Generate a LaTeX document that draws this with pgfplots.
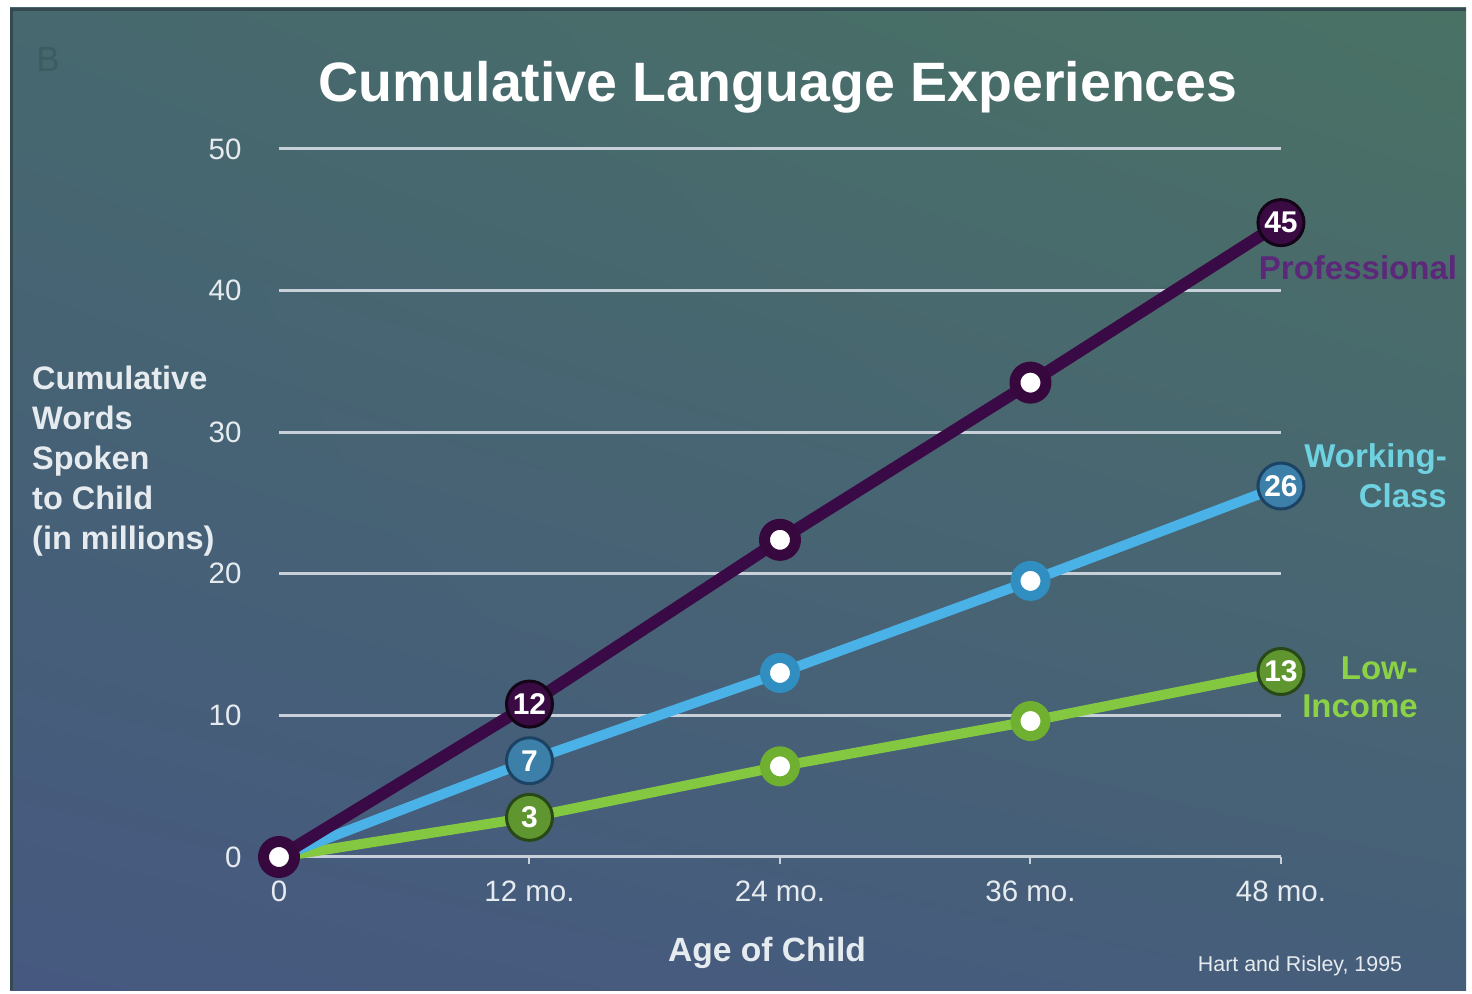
\documentclass[border=0pt]{standalone}
\usepackage{fontspec}
\setmainfont{Liberation Sans}
\usepackage{pgfplots}
\pgfplotsset{compat=1.18}
\usetikzlibrary{shadings}
\definecolor{bgUL}{RGB}{70,104,110}
\definecolor{bgUR}{RGB}{74,114,100}
\definecolor{bgLL}{RGB}{70,88,128}
\definecolor{bgLR}{RGB}{70,94,122}
\definecolor{bgedge}{RGB}{52,74,80}
\definecolor{gridc}{RGB}{200,208,218}
\definecolor{tickc}{RGB}{230,235,240}
\definecolor{profline}{RGB}{58,10,70}
\definecolor{profring}{RGB}{55,8,62}
\definecolor{proffill}{RGB}{58,10,66}
\definecolor{profborder}{RGB}{20,4,24}
\definecolor{proftext}{RGB}{92,40,122}
\definecolor{workline}{RGB}{74,178,230}
\definecolor{workring}{RGB}{48,142,192}
\definecolor{workfill}{RGB}{60,128,170}
\definecolor{workborder}{RGB}{28,66,100}
\definecolor{worktext}{RGB}{110,210,225}
\definecolor{lowline}{RGB}{132,200,66}
\definecolor{lowring}{RGB}{112,176,48}
\definecolor{lowfill}{RGB}{96,150,48}
\definecolor{lowborder}{RGB}{40,72,24}
\definecolor{lowtext}{RGB}{140,210,70}
\definecolor{bmark}{RGB}{60,92,95}
\begin{document}
\begin{tikzpicture}[x=1pt,y=1pt]
\fill[white] (0,0) rectangle (1472,993);
\shade[upper left=bgUL, upper right=bgUR, lower left=bgLL, lower right=bgLR] (10,3) rectangle (1466,985);
\draw[bgedge, line width=3pt] (11.5,3) -- (11.5,983.5) -- (1466,983.5);
\node[anchor=base, font=\fontsize{35}{35}\selectfont, text=bmark] at (48,921) {B};
\begin{axis}[
  at={(279pt,136pt)}, anchor=south west,
  scale only axis, width=1002pt, height=708pt,
  xmin=0, xmax=48, ymin=0, ymax=50,
  clip=false,
  axis line style={draw=none},
  ymajorgrids,
  grid style={gridc, line width=3pt},
  xtick={0,12,24,36,48},
  xticklabels={0,\mbox{12 mo.},\mbox{24 mo.},\mbox{36 mo.},\mbox{48 mo.}},
  ytick={0,10,20,30,40,50},
  tick pos=left,
  tick align=outside,
  major tick length=7pt,
  xtick style={draw=gridc, line width=2pt},
  ytick style={draw=none},
  /pgf/number format/assume math mode=true,
  ticklabel style={font=\fontsize{29.5}{30}\selectfont, text=tickc},
  xticklabel style={yshift=-13pt},
  yticklabel style={xshift=-27pt},
]
\addplot[lowline, line width=10pt, line join=round, mark=*, mark size=15pt,
  mark options={draw=lowring, fill=white, line width=10pt}]
  coordinates {(0,0) (12,2.8) (24,6.4) (36,9.6) (48,13.1)};
\addplot[workline, line width=10pt, line join=round, mark=*, mark size=15pt,
  mark options={draw=workring, fill=white, line width=10pt}]
  coordinates {(0,0) (12,6.8) (24,13.0) (36,19.5) (48,26.2)};
\addplot[profline, line width=12pt, line join=round, mark=*, mark size=15.5pt,
  mark options={draw=profring, fill=white, line width=11pt}]
  coordinates {(0,0) (12,10.8) (24,22.4) (36,33.5) (48,44.8)};
\addplot[draw=none, mark=none, nodes near coords, point meta=explicit symbolic,
  every node near coord/.style={anchor=center, circle, fill=lowfill, draw=lowborder, line width=3pt,
    minimum size=46pt, inner sep=0pt, text=white, font=\bfseries\fontsize{30}{30}\selectfont}]
  coordinates {(12,2.8)[3] (48,13.1)[13]};
\addplot[draw=none, mark=none, nodes near coords, point meta=explicit symbolic,
  every node near coord/.style={anchor=center, circle, fill=workfill, draw=workborder, line width=3pt,
    minimum size=46pt, inner sep=0pt, text=white, font=\bfseries\fontsize{30}{30}\selectfont}]
  coordinates {(12,6.8)[7] (48,26.2)[26]};
\addplot[draw=none, mark=none, nodes near coords, point meta=explicit symbolic,
  every node near coord/.style={anchor=center, circle, fill=proffill, draw=profborder, line width=3pt,
    minimum size=46pt, inner sep=0pt, text=white, font=\bfseries\fontsize{30}{30}\selectfont}]
  coordinates {(12,10.8)[12] (48,44.8)[45]};
\end{axis}
\node[anchor=base, font=\bfseries\fontsize{55.5}{60}\selectfont, text=white] at (778,891) {Cumulative Language Experiences};
\node[anchor=north west, align=left, inner sep=0pt, font=\bfseries\fontsize{32.5}{40}\selectfont, text=tickc] at (32,627) {Cumulative\\Words\\Spoken\\to Child\\(in millions)};
\node[anchor=base, font=\bfseries\fontsize{33.6}{36}\selectfont, text=tickc] at (767,31) {Age of Child};
\node[anchor=base, font=\fontsize{21.4}{24}\selectfont, text=tickc] at (1300,22) {Hart and Risley, 1995};
\node[anchor=base, font=\bfseries\fontsize{33}{36}\selectfont, text=proftext] at (1358,713) {Professional};
\node[anchor=base east, inner sep=0pt, font=\bfseries\fontsize{33}{36}\selectfont, text=worktext] at (1447,525) {Working-};
\node[anchor=base east, inner sep=0pt, font=\bfseries\fontsize{33}{36}\selectfont, text=worktext] at (1447,485) {Class};
\node[anchor=base east, inner sep=0pt, font=\bfseries\fontsize{33}{36}\selectfont, text=lowtext] at (1418,313) {Low-};
\node[anchor=base east, inner sep=0pt, font=\bfseries\fontsize{33}{36}\selectfont, text=lowtext] at (1418,275) {Income};
\end{tikzpicture}
\end{document}
